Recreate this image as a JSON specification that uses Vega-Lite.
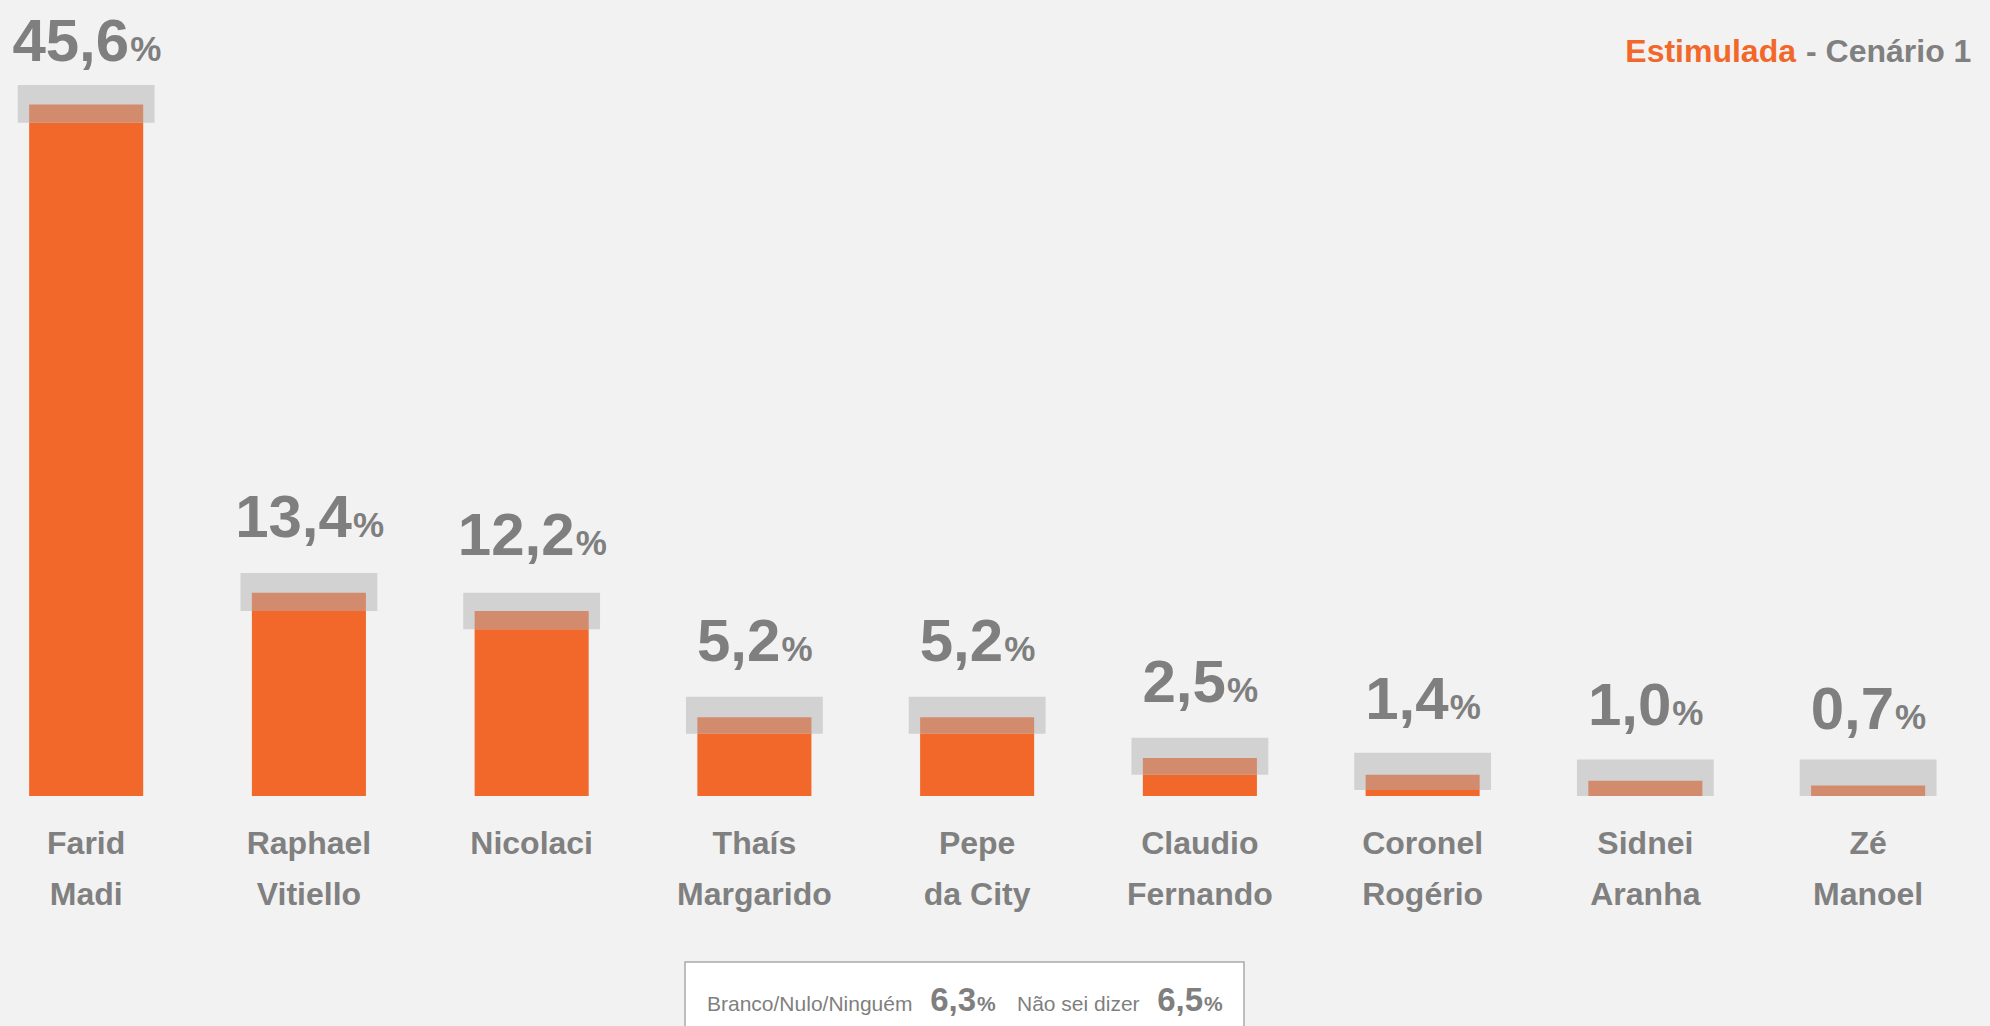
{
  "$schema": "https://vega.github.io/schema/vega-lite/v6.json",
  "width": 1990,
  "height": 796,
  "autosize": {"type": "none"},
  "padding": {"left": 0, "top": 0, "right": 0, "bottom": 230},
  "background": "#F2F2F2",
  "config": {
    "view": {"stroke": null},
    "font": "Liberation Sans",
    "locale": {"number": {"decimal": ",", "thousands": ".", "grouping": [3], "currency": ["R$", ""]}}
  },
  "datasets": {
    "cands": [
      {"name": "Farid\nMadi", "v": 45.6, "lo": 44.4, "hi": 46.9},
      {"name": "Raphael\nVitiello", "v": 13.4, "lo": 12.2, "hi": 14.7},
      {"name": "Nicolaci", "v": 12.2, "lo": 11.0, "hi": 13.4},
      {"name": "Thaís\nMargarido", "v": 5.2, "lo": 4.1, "hi": 6.55},
      {"name": "Pepe\nda City", "v": 5.2, "lo": 4.1, "hi": 6.55},
      {"name": "Claudio\nFernando", "v": 2.5, "lo": 1.4, "hi": 3.85},
      {"name": "Coronel\nRogério", "v": 1.4, "lo": 0.4, "hi": 2.85},
      {"name": "Sidnei\nAranha", "v": 1.0, "lo": 0.0, "hi": 2.4},
      {"name": "Zé\nManoel", "v": 0.7, "lo": 0.0, "hi": 2.4}
    ],
    "footer": [
      {"a": "Branco/Nulo/Ninguém", "b": 6.3, "c": "Não sei dizer", "d": 6.5}
    ]
  },
  "layer": [
    {
      "data": {"name": "cands"},
      "encoding": {
        "x": {
          "field": "name", "type": "nominal", "sort": null,
          "scale": {"paddingInner": 0.488, "paddingOuter": 0.211, "align": 0.31},
          "axis": {
            "title": null, "domain": false, "ticks": false, "tickSize": 0,
            "labelAngle": 0, "labelFontSize": 32, "labelFontWeight": "bold",
            "labelColor": "#808080", "labelPadding": 32, "labelLineHeight": 51,
            "labelBaseline": "top",
            "labelExpr": "split(datum.value, '\\n')"
          }
        }
      },
      "layer": [
        {
          "mark": {"type": "bar", "color": "#F2672A"},
          "encoding": {
            "y": {"field": "v", "type": "quantitative", "scale": {"domain": [0, 52.5], "nice": false, "zero": true}, "axis": null},
            "y2": {"datum": 0}
          }
        },
        {
          "mark": {"type": "bar", "color": "#D2D2D2", "width": {"band": 1.2}},
          "encoding": {
            "y": {"field": "lo", "type": "quantitative"},
            "y2": {"field": "hi"}
          }
        },
        {
          "mark": {"type": "bar", "color": "#D38B6D"},
          "encoding": {
            "y": {"field": "lo", "type": "quantitative"},
            "y2": {"field": "v"}
          }
        },
        {
          "transform": [{"filter": "datum.v < 10"}],
          "mark": {"type": "text", "align": "right", "baseline": "alphabetic", "dx": 26, "dy": -56, "fontSize": 60, "fontWeight": "bold", "color": "#7F7F7F"},
          "encoding": {
            "y": {"field": "v", "type": "quantitative"},
            "text": {"field": "v", "type": "quantitative", "format": ".1f"}
          }
        },
        {
          "transform": [{"filter": "datum.v < 10"}],
          "mark": {"type": "text", "align": "left", "baseline": "alphabetic", "dx": 27, "dy": -56, "fontSize": 35, "fontWeight": "bold", "color": "#7F7F7F"},
          "encoding": {
            "y": {"field": "v", "type": "quantitative"},
            "text": {"value": "%"}
          }
        },
        {
          "transform": [{"filter": "datum.v >= 10 && datum.v < 40"}],
          "mark": {"type": "text", "align": "right", "baseline": "alphabetic", "dx": 43, "dy": -56, "fontSize": 60, "fontWeight": "bold", "color": "#7F7F7F"},
          "encoding": {
            "y": {"field": "v", "type": "quantitative"},
            "text": {"field": "v", "type": "quantitative", "format": ".1f"}
          }
        },
        {
          "transform": [{"filter": "datum.v >= 10 && datum.v < 40"}],
          "mark": {"type": "text", "align": "left", "baseline": "alphabetic", "dx": 44, "dy": -56, "fontSize": 35, "fontWeight": "bold", "color": "#7F7F7F"},
          "encoding": {
            "y": {"field": "v", "type": "quantitative"},
            "text": {"value": "%"}
          }
        },
        {
          "transform": [{"filter": "datum.v >= 40"}],
          "mark": {"type": "text", "align": "right", "baseline": "alphabetic", "dx": 43, "dy": -44, "fontSize": 60, "fontWeight": "bold", "color": "#7F7F7F"},
          "encoding": {
            "y": {"field": "v", "type": "quantitative"},
            "text": {"field": "v", "type": "quantitative", "format": ".1f"}
          }
        },
        {
          "transform": [{"filter": "datum.v >= 40"}],
          "mark": {"type": "text", "align": "left", "baseline": "alphabetic", "dx": 44, "dy": -44, "fontSize": 35, "fontWeight": "bold", "color": "#7F7F7F"},
          "encoding": {
            "y": {"field": "v", "type": "quantitative"},
            "text": {"value": "%"}
          }
        }
      ]
    },
    {
      "data": {"name": "footer"},
      "layer": [
        {
          "mark": {"type": "rect", "fill": "#FFFFFF", "stroke": "#AAAAAA", "strokeWidth": 1.5},
          "encoding": {"x": {"value": 685}, "x2": {"value": 1244}, "y": {"value": 962}, "y2": {"value": 1040}}
        },
        {
          "mark": {"type": "text", "align": "left", "baseline": "alphabetic", "fontSize": 21, "color": "#7F7F7F"},
          "encoding": {"x": {"value": 707}, "y": {"value": 1011}, "text": {"field": "a"}}
        },
        {
          "mark": {"type": "text", "align": "right", "baseline": "alphabetic", "fontSize": 33, "fontWeight": "bold", "color": "#7F7F7F"},
          "encoding": {"x": {"value": 976}, "y": {"value": 1011}, "text": {"field": "b", "type": "quantitative", "format": ".1f"}}
        },
        {
          "mark": {"type": "text", "align": "left", "baseline": "alphabetic", "fontSize": 21, "fontWeight": "bold", "color": "#7F7F7F"},
          "encoding": {"x": {"value": 977}, "y": {"value": 1011}, "text": {"value": "%"}}
        },
        {
          "mark": {"type": "text", "align": "left", "baseline": "alphabetic", "fontSize": 21, "color": "#7F7F7F"},
          "encoding": {"x": {"value": 1017}, "y": {"value": 1011}, "text": {"field": "c"}}
        },
        {
          "mark": {"type": "text", "align": "right", "baseline": "alphabetic", "fontSize": 33, "fontWeight": "bold", "color": "#7F7F7F"},
          "encoding": {"x": {"value": 1203}, "y": {"value": 1011}, "text": {"field": "d", "type": "quantitative", "format": ".1f"}}
        },
        {
          "mark": {"type": "text", "align": "left", "baseline": "alphabetic", "fontSize": 21, "fontWeight": "bold", "color": "#7F7F7F"},
          "encoding": {"x": {"value": 1204}, "y": {"value": 1011}, "text": {"value": "%"}}
        },
        {
          "mark": {"type": "text", "align": "right", "baseline": "alphabetic", "fontSize": 32, "fontWeight": "bold", "color": "#F2672A"},
          "encoding": {"x": {"value": 1796}, "y": {"value": 62}, "text": {"value": "Estimulada"}}
        },
        {
          "mark": {"type": "text", "align": "left", "baseline": "alphabetic", "fontSize": 32, "fontWeight": "bold", "color": "#808080"},
          "encoding": {"x": {"value": 1806}, "y": {"value": 62}, "text": {"value": "- Cenário 1"}}
        }
      ]
    }
  ]
}
